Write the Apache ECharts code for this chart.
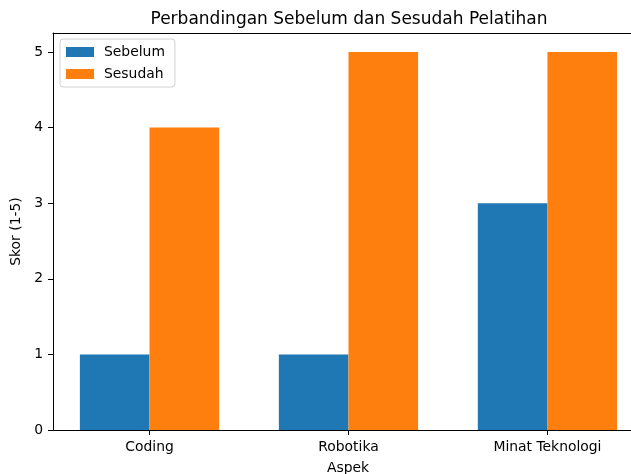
<!DOCTYPE html>
<html>
<head>
<meta charset="utf-8">
<script src="https://cdn.jsdelivr.net/npm/echarts@6/dist/echarts.min.js"></script>
<style>
  html, body { margin: 0; padding: 0; background: #fff; }
  #chart { width: 631px; height: 474px; }
</style>
</head>
<body>
<div id="chart"></div>
<script>
// data
var categories = ['Coding', 'Robotika', 'Minat Teknologi'];
var sebelum = [1, 1, 3];
var sesudah = [4, 5, 5];
var yTicks = [0, 1, 2, 3, 4, 5];

var barW = 0.35; // bar width in category units (matplotlib style)
var font = 'DejaVu Sans';
// the original figure is cut off on the right, so the visible x range ends early
var xMin = -0.485, xMax = 2.42;

var chart = echarts.init(document.getElementById('chart'));

function pos(vals, shift) {
	return vals.map(function (v, i) { return [i + shift, v]; });
}

var option = {
	animation: false,
	title: {
		text: 'Perbandingan Sebelum dan Sesudah Pelatihan',
		left: 344, top: 6, textAlign: 'center',
		textStyle: { fontFamily: font, fontSize: 17, fontWeight: 'normal', color: '#000' }
	},
	legend: {
		left: 60, top: 39,
		orient: 'vertical',
		itemWidth: 28, itemHeight: 10, itemGap: 8,
		padding: [6, 10, 6, 6],
		borderColor: '#d0d0d0', borderWidth: 1, borderRadius: 3,
		icon: 'rect',
		textStyle: { fontFamily: font, fontSize: 13.9, color: '#000', padding: [0, 0, 0, 5] },
		data: ['Sebelum', 'Sesudah']
	},
	grid: { left: 53, top: 33, right: 0, bottom: 44, containLabel: false, outerBoundsMode: 'none' },
	xAxis: [{
		type: 'value',
		min: xMin, max: xMax,
		name: 'Aspek', nameLocation: 'middle', nameGap: 31,
		nameTextStyle: { fontFamily: font, fontSize: 13.9, color: '#000', padding: [0, 0, 0, 12] },
		splitLine: { show: false },
		axisLine: { show: true, onZero: false, lineStyle: { color: '#000', width: 1 } },
		axisTick: { show: true, length: 5, lineStyle: { color: '#000' }, customValues: [0, 1, 2] },
		axisLabel: {
			fontFamily: font, fontSize: 13.9, color: '#000', margin: 10,
			customValues: [0, 1, 2],
			formatter: function (v) { return categories[Math.round(v)] || ''; }
		}
	}, {
		// top spine
		type: 'value', position: 'top',
		min: xMin, max: xMax,
		splitLine: { show: false },
		axisLine: { show: true, onZero: false, lineStyle: { color: '#000', width: 1 } },
		axisTick: { show: false },
		axisLabel: { show: false }
	}],
	yAxis: {
		type: 'value',
		min: 0, max: 5.25,
		name: 'Skor (1-5)', nameLocation: 'middle', nameGap: 24, nameRotate: 90,
		nameTextStyle: { fontFamily: font, fontSize: 13.9, color: '#000' },
		splitLine: { show: false },
		axisLine: { show: true, onZero: false, lineStyle: { color: '#000', width: 1 } },
		axisTick: { show: true, length: 5, lineStyle: { color: '#000' }, customValues: yTicks },
		axisLabel: { fontFamily: font, fontSize: 13.9, color: '#000', margin: 10, customValues: yTicks }
	},
	series: [
		{
			name: 'Sebelum', type: 'bar',
			data: pos(sebelum, -barW / 2),
			barWidth: 69.6, barGap: '-100%',
			itemStyle: { color: '#1f77b4' }
		},
		{
			name: 'Sesudah', type: 'bar',
			data: pos(sesudah, barW / 2),
			barWidth: 69.6, barGap: '-100%',
			itemStyle: { color: '#ff7f0e' }
		}
	]
};

chart.setOption(option);
</script>
</body>
</html>
